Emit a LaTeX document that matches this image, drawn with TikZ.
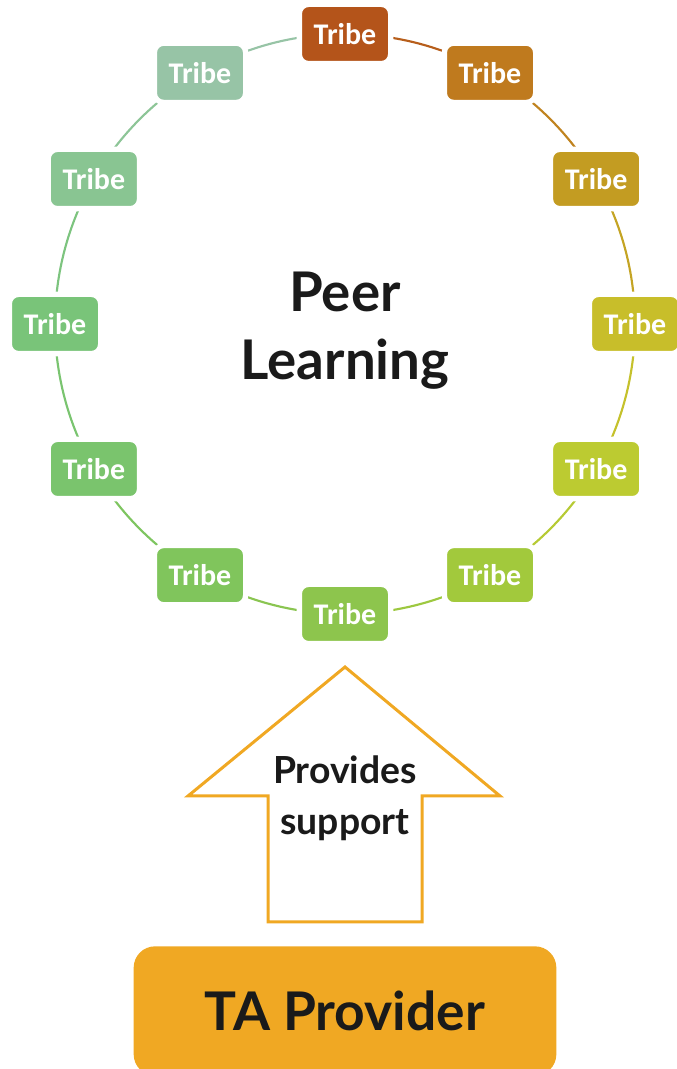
\documentclass[tikz,border=0pt]{standalone}
\usepackage{fontspec}
\setmainfont{Carlito}
\newfontfamily\headfont{Lato}
\usetikzlibrary{positioning}

\definecolor{tribeA}{HTML}{B4541A}
\definecolor{tribeB}{HTML}{BF7A1E}
\definecolor{tribeC}{HTML}{C39C22}
\definecolor{tribeD}{HTML}{C8BE2A}
\definecolor{tribeE}{HTML}{BCCB31}
\definecolor{tribeF}{HTML}{A2C93C}
\definecolor{tribeG}{HTML}{8DC54D}
\definecolor{tribeH}{HTML}{80C55C}
\definecolor{tribeI}{HTML}{7AC46D}
\definecolor{tribeJ}{HTML}{79C479}
\definecolor{tribeK}{HTML}{89C592}
\definecolor{tribeL}{HTML}{97C4A6}
\definecolor{taorange}{HTML}{F0A823}
\definecolor{ink}{HTML}{1A1A1A}

\tikzset{
  tribe/.style={rounded corners=7pt, minimum width=68.5pt, minimum height=44.5pt,
    inner sep=0pt, text=white, draw=white, line width=4pt,
    font=\bfseries\fontsize{22.5}{26}\selectfont},
  ring/.style={line width=1.6pt},
  headline/.style={text=ink, align=center, font=\headfont\bfseries\fontsize{41}{51}\selectfont},
  supportarrow/.style={draw=taorange, line width=2.25pt, line join=miter},
  provider/.style={fill=taorange, rounded corners=16pt, minimum width=317pt,
    minimum height=97pt, text=ink, font=\headfont\bfseries\fontsize{40}{48}\selectfont},
}

\begin{document}
\begin{tikzpicture}[x=0.75pt, y=0.75pt]
  \useasboundingbox (0,0) rectangle (677,1069);
  \coordinate (c) at (345,745);

  % ring between the tribes
  \foreach \a/\c/\d in {90/tribeA/tribeB, 60/tribeB/tribeC, 30/tribeC/tribeD,
      0/tribeD/tribeE, -30/tribeE/tribeF, -60/tribeF/tribeG, -90/tribeG/tribeH,
      -120/tribeH/tribeI, -150/tribeI/tribeJ, 180/tribeJ/tribeK,
      150/tribeK/tribeL, 120/tribeL/tribeL}
    \draw[ring, \c!75!\d] ([shift={(\a:290)}]c) arc[start angle=\a, end angle=\a-30, radius=290];

  % tribes
  \foreach \a/\c [count=\i] in {90/tribeA, 60/tribeB, 30/tribeC, 0/tribeD,
      -30/tribeE, -60/tribeF, -90/tribeG, -120/tribeH, -150/tribeI,
      180/tribeJ, 150/tribeK, 120/tribeL}
    \node[tribe, fill=\c] (t\i) at ([shift={(\a:290)}]c) {Tribe};

  \node[headline] (peer) at ([yshift=-5]c) {Peer\\Learning};

  % support arrow
  \draw[supportarrow] (345,402) -- (500,273) -- (422,273) -- (422,147)
    -- (268,147) -- (268,273) -- (188,273) -- cycle;
  \node[text=ink, align=center, font=\headfont\bfseries\fontsize{28}{38}\selectfont]
    (support) at (345,271) {Provides\\support};

  \node[provider] (ta) at (345,58) {TA Provider};
\end{tikzpicture}
\end{document}
